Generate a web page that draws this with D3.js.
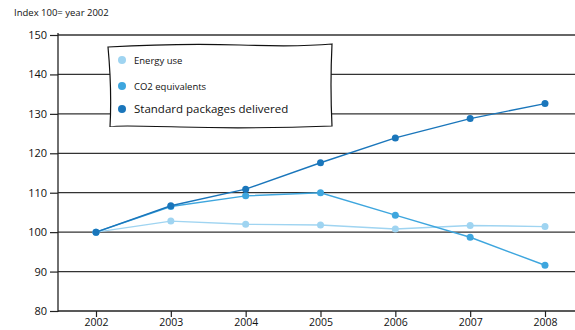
<!DOCTYPE html>
<html><head><meta charset="utf-8">
<script src="https://cdn.jsdelivr.net/npm/d3@7"></script>
<style>body{margin:0;background:#fff}svg{display:block}text{font-family:"Open Sans",sans-serif;fill:#111}</style>
</head><body><svg id="c" width="575" height="330"></svg>
<script>
const years = [2002, 2003, 2004, 2005, 2006, 2007, 2008];
const energyUse = [100, 102.8, 102.0, 101.8, 100.8, 101.7, 101.4];
const co2 = [100, 106.5, 109.2, 110.0, 104.3, 98.7, 91.6];
const packages = [100, 106.7, 110.9, 117.6, 123.9, 128.8, 132.6];
const yTicks = [80, 90, 100, 110, 120, 130, 140, 150];
const seriesNames = ["Energy use", "CO2 equivalents", "Standard packages delivered"];
const seriesColors = ["#9fd4f1", "#3ea6de", "#1a76bb"];
const seriesValues = [energyUse, co2, packages];

(function () {
const svg = d3.select("#c");
const mLeft = 58, mRight = 575, mTop = 35, mBottom = 311;
const x = d3.scalePoint().domain(years).range([96, 545]);
const y = d3.scaleLinear().domain([80, 150]).range([mBottom, mTop]);

svg.append("text").attr("x", 14).attr("y", 16).attr("font-size", 9.5).text("Index 100= year 2002");

// gridlines
svg.append("g").selectAll("line").data(yTicks.filter(d => d > 80)).join("line")
  .attr("x1", mLeft).attr("x2", mRight).attr("y1", d => y(d)).attr("y2", d => y(d))
  .attr("stroke", "#333").attr("stroke-width", 1.3);

// y axis
const ya = svg.append("g").attr("transform", `translate(${mLeft},0)`)
  .call(d3.axisLeft(y).tickValues(yTicks).tickSize(8).tickPadding(3).tickFormat(d3.format("d")));
ya.select(".domain").remove();
ya.selectAll("line").attr("stroke", "#222").attr("stroke-width", 1.2);
ya.selectAll("text").attr("font-size", 11).attr("font-family", "Open Sans, sans-serif").attr("fill", "#111");
svg.append("line").attr("x1", mLeft).attr("x2", mLeft).attr("y1", mTop - 2).attr("y2", mBottom + 1)
  .attr("stroke", "#222").attr("stroke-width", 1.3);

// x axis
const xa = svg.append("g").attr("transform", `translate(0,${mBottom})`)
  .call(d3.axisBottom(x).tickSize(6).tickPadding(2).tickFormat(d3.format("d")));
xa.select(".domain").remove();
xa.selectAll("line").attr("stroke", "#222").attr("stroke-width", 1.2);
xa.selectAll("text").attr("font-size", 10.5).attr("font-family", "Open Sans, sans-serif").attr("fill", "#111");
svg.append("line").attr("x1", mLeft).attr("x2", mRight).attr("y1", mBottom).attr("y2", mBottom)
  .attr("stroke", "#222").attr("stroke-width", 1.3);

// lines
const line = d3.line().x((d, i) => x(years[i])).y(d => y(d));
seriesValues.forEach((vals, k) => {
  svg.append("path").datum(vals).attr("d", line).attr("fill", "none")
    .attr("stroke", seriesColors[k]).attr("stroke-width", 1.4);
  svg.append("g").selectAll("circle").data(vals).join("circle")
    .attr("cx", (d, i) => x(years[i])).attr("cy", d => y(d)).attr("r", 3.5)
    .attr("fill", seriesColors[k]);
});

// legend
const lg = svg.append("g");
lg.append("path").attr("d", "M108,47 Q180,43 240,45 T332,44 Q330,85 332,126 Q250,129 180,127 T110,127 Q112,90 108,47 Z")
  .attr("fill", "#fff").attr("stroke", "#111").attr("stroke-width", 1.2);
const ly = [60, 86, 109];
seriesNames.forEach((n, k) => {
  lg.append("circle").attr("cx", 122).attr("cy", ly[k]).attr("r", 4).attr("fill", seriesColors[k]);
  lg.append("text").attr("x", 134).attr("y", ly[k] + 3.5).attr("font-size", k === 2 ? 11.5 : 9.5).text(n);
});
})();
</script></body></html>
